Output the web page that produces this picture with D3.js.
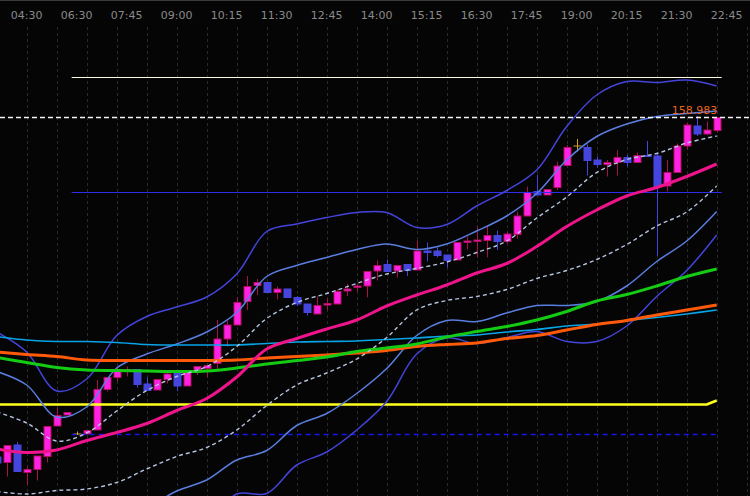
<!DOCTYPE html>
<html lang="en">
<head>
<meta charset="UTF-8">
<title>USDJPY M15</title>
<script src="https://d3js.org/d3.v7.min.js"></script>
<style>
  html, body { margin: 0; padding: 0; background: #000; overflow: hidden; }
  svg { display: block; }
  .time-label { font-family: "DejaVu Sans", sans-serif; font-size: 11px; fill: #8a8a8a; }
  .price-label { font-family: "DejaVu Sans", sans-serif; font-size: 11px; fill: #e8641e; }
</style>
</head>
<body>
<div id="chart"></div>
<script>
  // 15 minute candles, index 0 is the partly hidden bar on the left edge
  var opens = [
    158.304, 158.293, 158.328, 158.273, 158.279, 158.305, 158.366, 158.388, 158.350, 158.350,
    158.358, 158.439, 158.463, 158.477, 158.479, 158.450, 158.438, 158.459, 158.473, 158.446,
    158.478, 158.481, 158.491, 158.540, 158.568, 158.615, 158.647, 158.653, 158.633, 158.640,
    158.623, 158.610, 158.590, 158.608, 158.610, 158.636, 158.643, 158.646, 158.676, 158.689,
    158.676, 158.689, 158.678, 158.716, 158.716, 158.708, 158.698, 158.733, 158.735, 158.737,
    158.747, 158.735, 158.749, 158.786, 158.835, 158.828, 158.843, 158.887, 158.926, 158.923,
    158.898, 158.889, 158.893, 158.903, 158.893, 158.907, 158.906, 158.846, 158.873, 158.926,
    158.966, 158.950, 158.957
  ];
  var highs = [
    158.308, 158.328, 158.334, 158.285, 158.306, 158.365, 158.403, 158.393, 158.355, 158.357,
    158.458, 158.463, 158.485, 158.485, 158.479, 158.463, 158.459, 158.475, 158.473, 158.476,
    158.486, 158.487, 158.578, 158.577, 158.624, 158.666, 158.660, 158.653, 158.645, 158.640,
    158.626, 158.610, 158.625, 158.621, 158.639, 158.650, 158.651, 158.675, 158.697, 158.699,
    158.687, 158.689, 158.737, 158.733, 158.723, 158.708, 158.733, 158.745, 158.765, 158.766,
    158.757, 158.755, 158.795, 158.845, 158.868, 158.839, 158.895, 158.928, 158.940, 158.929,
    158.905, 158.898, 158.918, 158.908, 158.913, 158.936, 158.913, 158.898, 158.931, 158.973,
    158.986, 158.975, 158.983
  ];
  var lows = [
    158.288, 158.265, 158.275, 158.248, 158.257, 158.293, 158.366, 158.388, 158.348, 158.350,
    158.358, 158.435, 158.455, 158.465, 158.443, 158.437, 158.438, 158.451, 158.436, 158.446,
    158.468, 158.463, 158.478, 158.525, 158.568, 158.598, 158.628, 158.633, 158.619, 158.623,
    158.606, 158.587, 158.590, 158.598, 158.610, 158.626, 158.635, 158.623, 158.657, 158.675,
    158.663, 158.666, 158.678, 158.695, 158.703, 158.683, 158.698, 158.719, 158.703, 158.703,
    158.718, 158.731, 158.741, 158.786, 158.828, 158.828, 158.838, 158.887, 158.915, 158.867,
    158.883, 158.865, 158.867, 158.885, 158.893, 158.905, 158.706, 158.835, 158.873, 158.919,
    158.946, 158.948, 158.953
  ];
  var closes = [
    158.292, 158.327, 158.275, 158.279, 158.306, 158.365, 158.387, 158.393, 158.350, 158.357,
    158.439, 158.463, 158.479, 158.479, 158.449, 158.437, 158.459, 158.470, 158.446, 158.476,
    158.485, 158.487, 158.540, 158.568, 158.613, 158.645, 158.653, 158.633, 158.640, 158.623,
    158.610, 158.593, 158.607, 158.611, 158.635, 158.640, 158.646, 158.675, 158.687, 158.675,
    158.687, 158.677, 158.716, 158.713, 158.707, 158.697, 158.733, 158.736, 158.738, 158.747,
    158.735, 158.750, 158.786, 158.833, 158.828, 158.839, 158.886, 158.923, 158.926, 158.897,
    158.889, 158.893, 158.903, 158.893, 158.907, 158.905, 158.845, 158.873, 158.926, 158.968,
    158.950, 158.958, 158.983
  ];

  var timeLabels = ["04:30", "06:30", "07:45", "09:00", "10:15", "11:30", "12:45", "14:00",
    "15:15", "16:30", "17:45", "19:00", "20:15", "21:30", "22:45"];
  var timeLabelIdx = [3, 8, 13, 18, 23, 28, 33, 38, 43, 48, 53, 58, 63, 68, 73];
  var gridIdx = [3, 6, 9, 12, 15, 18, 21, 24, 27, 30, 33, 36, 39, 42, 45, 48, 51, 54, 57, 60, 63, 66, 69, 72, 75];

  // indicator values read every third bar
  var sampleIdx = [0, 3, 6, 9, 12, 15, 18, 21, 24, 27, 30, 33, 36, 39, 42, 45, 48, 51, 54, 57, 60, 63, 66, 69, 72];
  var maPink = [158.320, 158.313, 158.318, 158.337, 158.353, 158.371, 158.397, 158.421, 158.464, 158.520,
    158.541, 158.560, 158.578, 158.606, 158.628, 158.648, 158.672, 158.691, 158.725, 158.765,
    158.798, 158.826, 158.843, 158.865, 158.890];
  var bandUp1 = [158.394, 158.372, 158.336, 158.352, 158.396, 158.437, 158.465, 158.485, 158.525, 158.581,
    158.613, 158.631, 158.651, 158.670, 158.681, 158.694, 158.713, 158.736, 158.782, 158.824,
    158.873, 158.899, 158.911, 158.932, 158.946];
  var bandDn1 = [158.235, 158.230, 158.237, 158.240, 158.253, 158.280, 158.305, 158.323, 158.358, 158.407,
    158.448, 158.472, 158.500, 158.543, 158.598, 158.617, 158.625, 158.639, 158.661, 158.677,
    158.699, 158.729, 158.766, 158.794, 158.846];
  var bandUp2 = [158.475, 158.448, 158.384, 158.404, 158.482, 158.510, 158.530, 158.554, 158.593, 158.665,
    158.687, 158.703, 158.719, 158.730, 158.719, 158.730, 158.756, 158.786, 158.831, 158.898,
    158.945, 158.970, 158.985, 158.991, 158.996];
  var bandDn2 = [158.156, 158.159, 158.188, 158.184, 158.182, 158.202, 158.236, 158.258, 158.298, 158.317,
    158.367, 158.391, 158.431, 158.481, 158.547, 158.577, 158.575, 158.592, 158.607, 158.607,
    158.615, 158.646, 158.695, 158.736, 158.795];
  var bandUp3 = [158.554, 158.514, 158.436, 158.460, 158.547, 158.585, 158.604, 158.624, 158.670, 158.755,
    158.770, 158.783, 158.793, 158.793, 158.763, 158.769, 158.806, 158.837, 158.878, 158.965,
    159.028, 159.055, 159.053, 159.058, 159.046];
  var bandDn3 = [158.076, 158.088, 158.138, 158.128, 158.110, 158.124, 158.146, 158.168, 158.230, 158.231,
    158.288, 158.314, 158.358, 158.415, 158.510, 158.542, 158.531, 158.543, 158.555, 158.535,
    158.535, 158.566, 158.625, 158.677, 158.748];
  var maCyan = [158.545, 158.538, 158.535, 158.535, 158.533, 158.529, 158.528, 158.528, 158.528, 158.531,
    158.534, 158.535, 158.536, 158.539, 158.542, 158.546, 158.548, 158.554, 158.559, 158.566,
    158.570, 158.577, 158.583, 158.590, 158.598];
  var maOrange = [158.514, 158.509, 158.505, 158.498, 158.497, 158.497, 158.497, 158.497, 158.498, 158.502,
    158.505, 158.508, 158.512, 158.517, 158.525, 158.529, 158.532, 158.541, 158.547, 158.558,
    158.569, 158.577, 158.588, 158.598, 158.608];
  var maGreen = [158.503, 158.493, 158.483, 158.478, 158.477, 158.476, 158.475, 158.476, 158.482, 158.490,
    158.497, 158.504, 158.515, 158.522, 158.530, 158.544, 158.555, 158.565, 158.578, 158.595,
    158.616, 158.629, 158.646, 158.665, 158.680];
  var yellowIdx = [0, 71, 72];
  var maYellow = [158.409, 158.409, 158.417];

  var levelWhite = 159.063;
  var levelBlue = 158.833;
  var levelBlueDash = 158.349;
  var lastPrice = 158.983;

  var width = 750, height = 496;

  var svg = d3.select("#chart")
    .append("svg")
    .attr("width", width)
    .attr("height", height)
    .style("background", "#050505");

  var x = d3.scaleLinear().domain([0, 75]).range([-3.3, 746.7]);
  var y = d3.scaleLinear().domain([158.226, 159.218]).range([height, 0]);

  // top border
  svg.append("line")
    .attr("x1", 0).attr("x2", width)
    .attr("y1", 0.5).attr("y2", 0.5)
    .attr("stroke", "#3a3a3a");

  // vertical grid
  svg.append("g")
    .selectAll("line")
    .data(gridIdx)
    .enter()
    .append("line")
    .attr("x1", d => Math.round(x(d)) + 0.5)
    .attr("x2", d => Math.round(x(d)) + 0.5)
    .attr("y1", 27)
    .attr("y2", height)
    .attr("stroke", "#2a2a2a")
    .attr("stroke-dasharray", "3,3");

  // time labels
  svg.append("g")
    .selectAll("text")
    .data(timeLabels)
    .enter()
    .append("text")
    .attr("class", "time-label")
    .attr("x", (d, i) => x(timeLabelIdx[i]))
    .attr("y", 19)
    .attr("text-anchor", "middle")
    .text(d => d);

  // candles
  var candles = svg.append("g")
    .selectAll("g")
    .data(opens.map((o, i) => ({ i: i, o: o, h: highs[i], l: lows[i], c: closes[i] })))
    .enter()
    .append("g");

  function wickColor(d) {
    if (d.c === d.o) return "#d4a020";
    return d.c > d.o ? "#a8104a" : "#4646de";
  }

  candles.append("line")
    .attr("x1", d => Math.round(x(d.i)) + 0.5)
    .attr("x2", d => Math.round(x(d.i)) + 0.5)
    .attr("y1", d => y(d.h))
    .attr("y2", d => y(d.l))
    .attr("stroke", wickColor)
    .attr("stroke-width", 1);

  candles.filter(d => d.c !== d.o)
    .append("rect")
    .attr("x", d => Math.round(x(d.i)) - 3)
    .attr("y", d => y(Math.max(d.o, d.c)))
    .attr("width", 7)
    .attr("height", d => Math.max(1, Math.abs(y(d.o) - y(d.c))))
    .attr("fill", d => d.c > d.o ? "#ff22e4" : "#4646de")
    .attr("stroke", d => d.c > d.o ? "#b0105a" : "#4646de")
    .attr("stroke-width", 1);

  candles.filter(d => d.c === d.o)
    .append("line")
    .attr("x1", d => Math.round(x(d.i)) - 3.5)
    .attr("x2", d => Math.round(x(d.i)) + 4.5)
    .attr("y1", d => y(d.o))
    .attr("y2", d => y(d.o))
    .attr("stroke", "#d4a020")
    .attr("stroke-width", 1);

  // horizontal levels
  function hline(price, x0, x1, color, w, dash) {
    svg.append("line")
      .attr("x1", x0).attr("x2", x1)
      .attr("y1", y(price)).attr("y2", y(price))
      .attr("stroke", color)
      .attr("stroke-width", w)
      .attr("stroke-dasharray", dash || null);
  }
  hline(levelWhite, x(7.5), x(72.5), "#fffbe0", 1.2);
  hline(levelBlue, x(7.5), x(72.5), "#2e2ee6", 1.2);
  hline(levelBlueDash, x(7.5), x(72.3), "#1515f0", 1.5, "5,4");

  // indicator lines
  function drawSeries(idx, vals, color, w, dash, curve) {
    var line = d3.line()
      .x(d => x(d[0]))
      .y(d => y(d[1]))
      .curve(curve || d3.curveCatmullRom.alpha(0.5));
    svg.append("path")
      .datum(idx.map((d, i) => [d, vals[i]]))
      .attr("d", line)
      .attr("fill", "none")
      .attr("stroke", color)
      .attr("stroke-width", w)
      .attr("stroke-linejoin", "round")
      .attr("stroke-dasharray", dash || null);
  }

  drawSeries(yellowIdx, maYellow, "#ffff1e", 2.6, null, d3.curveLinear);
  drawSeries(sampleIdx, bandDn3, "#4444dc", 1.5);
  drawSeries(sampleIdx, bandUp3, "#4444dc", 1.5);
  drawSeries(sampleIdx, bandDn2, "#5a7ee0", 1.5);
  drawSeries(sampleIdx, bandUp2, "#5a7ee0", 1.5);
  drawSeries(sampleIdx, maCyan, "#08a4e6", 1.6);
  drawSeries(sampleIdx, maOrange, "#ff5a0a", 3);
  drawSeries(sampleIdx, maGreen, "#14cc14", 3);
  drawSeries(sampleIdx, bandDn1, "#b4c4e0", 1.4, "4,3");
  drawSeries(sampleIdx, bandUp1, "#b4c4e0", 1.4, "4,3");
  drawSeries(sampleIdx, maPink, "#f0148c", 3);

  // last price
  hline(lastPrice, 0, width, "#f4f4f4", 1.3, "5,3");
  svg.append("text")
    .attr("class", "price-label")
    .attr("x", x(72) + 0.5)
    .attr("y", y(lastPrice) - 3.2)
    .attr("text-anchor", "end")
    .text(lastPrice.toFixed(3));
</script>
</body>
</html>
